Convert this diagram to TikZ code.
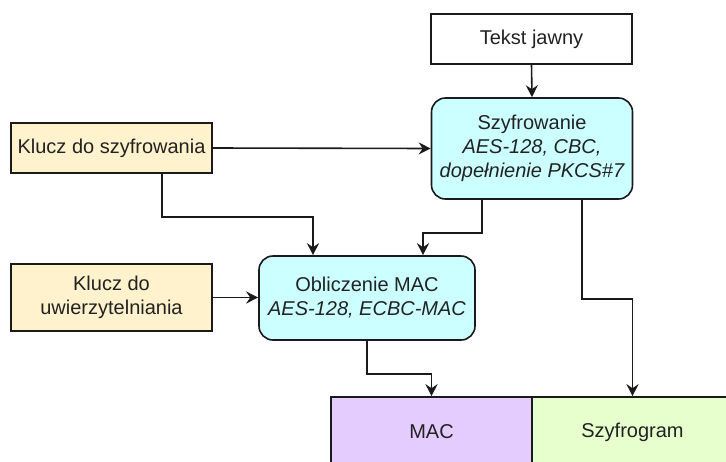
\documentclass[tikz,border=0pt]{standalone}
\usepackage{fontspec}
\setmainfont{Liberation Sans}
\usetikzlibrary{arrows.meta,calc}
\definecolor{keyfill}{HTML}{FFF2CC}
\definecolor{procfill}{HTML}{CCFFFF}
\definecolor{macfill}{HTML}{E5CCFF}
\definecolor{ctfill}{HTML}{E6FFCC}
\definecolor{edge}{HTML}{1A1A1A}
\definecolor{txt}{HTML}{222222}
\begin{document}
\begin{tikzpicture}[x=1pt,y=-1pt,
  every node/.style={font=\fontsize{20}{24}\selectfont, text=txt, align=center, inner sep=0pt, line width=1.6pt, draw=edge},
  plainbox/.style={rectangle, fill=white},
  keybox/.style={rectangle, fill=keyfill},
  procbox/.style={rectangle, rounded corners=14pt, fill=procfill},
  macbox/.style={rectangle, fill=macfill},
  ctbox/.style={rectangle, fill=ctfill},
  arr/.style={draw=edge, line width=1.6pt, -{Stealth[length=12pt,width=12pt,inset=4pt]}}]
\useasboundingbox (0,0) rectangle (726,461);
\begin{scope}
\clip (0,0) rectangle (726,461);
\fill[white] (0,0) rectangle (726,461);
\node[plainbox, minimum width=201pt, minimum height=50pt] (tj) at (531.5,39) {Tekst jawny};
\node[procbox, minimum width=201pt, minimum height=101pt] (sz) at (532,148.5) {Szyfrowanie\\\itshape AES-128, CBC,\\\itshape dopełnienie PKCS\#7};
\node[keybox, minimum width=201pt, minimum height=50pt] (k1) at (111.5,148) {Klucz do szyfrowania};
\node[keybox, minimum width=201pt, minimum height=67pt] (k2) at (111.5,297.5) {Klucz do\\uwierzytelniania};
\node[procbox, minimum width=216pt, minimum height=84pt] (ob) at (367,298) {Obliczenie MAC\\\itshape AES-128, ECBC-MAC};
\node[macbox, minimum width=201pt, minimum height=70pt] (mac) at (431.5,432) {MAC};
\node[ctbox, minimum width=210pt, minimum height=70pt] (szg) at (637,432) {\hspace*{-9pt}Szyfrogram};
\draw[arr] (tj.south) -- (sz.north);
\draw[arr] (k1.east) -- (sz.west);
\draw[arr] ([xshift=50.5pt]k1.south) -- ++(0,43) -| ([xshift=-54pt]ob.north);
\draw[arr] ([xshift=-50pt]sz.south) -- ++(0,33) -| ([xshift=56pt]ob.north);
\draw[arr] ([xshift=50pt]sz.south) -- ++(0,99) -| ([xshift=-4.5pt]szg.north);
\draw[arr] (k2.east) -- (k2.east -| ob.west);
\draw[arr] (ob.south) -- ++(0,33) -| (mac.north);
\end{scope}
\end{tikzpicture}
\end{document}
